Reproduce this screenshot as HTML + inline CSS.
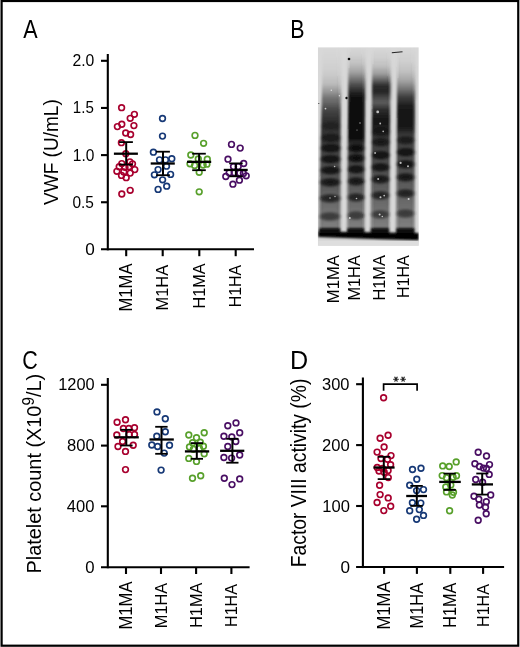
<!DOCTYPE html><html><head><meta charset="utf-8"><style>html,body{margin:0;padding:0;background:#fff}svg{display:block}text{font-family:"Liberation Sans",sans-serif;font-kerning:none;letter-spacing:0}</style></head><body>
<svg width="520" height="647" viewBox="0 0 520 647">
<defs><filter id="gs" x="0" y="0" width="100%" height="100%" filterUnits="userSpaceOnUse"><feGaussianBlur stdDeviation="0.25"/></filter></defs>
<g filter="url(#gs)">
<rect x="0" y="0" width="520" height="647" fill="#fff"/>
<text transform="translate(23.36,37.60) scale(0.8335,1)" font-size="25.87" fill="#000">A</text>
<text transform="translate(290.24,37.60) scale(0.8233,1)" font-size="26.02" fill="#000">B</text>
<text transform="translate(22.31,369.34) scale(0.8174,1)" font-size="26.27" fill="#000">C</text>
<text transform="translate(289.94,369.00) scale(0.9890,1)" font-size="25.44" fill="#000">D</text>
<line x1="107.8" y1="54.0" x2="107.8" y2="250.35000000000002" stroke="#000" stroke-width="2.1" stroke-linecap="butt"/>
<line x1="101.0" y1="249.3" x2="254.0" y2="249.3" stroke="#000" stroke-width="2.1" stroke-linecap="butt"/>
<line x1="101.0" y1="60.8" x2="107.8" y2="60.8" stroke="#000" stroke-width="2.1" stroke-linecap="butt"/>
<line x1="101.0" y1="107.95" x2="107.8" y2="107.95" stroke="#000" stroke-width="2.1" stroke-linecap="butt"/>
<line x1="101.0" y1="155.1" x2="107.8" y2="155.1" stroke="#000" stroke-width="2.1" stroke-linecap="butt"/>
<line x1="101.0" y1="202.25" x2="107.8" y2="202.25" stroke="#000" stroke-width="2.1" stroke-linecap="butt"/>
<line x1="126.2" y1="249.3" x2="126.2" y2="256.2" stroke="#000" stroke-width="2.1" stroke-linecap="butt"/>
<line x1="162.7" y1="249.3" x2="162.7" y2="256.2" stroke="#000" stroke-width="2.1" stroke-linecap="butt"/>
<line x1="199.3" y1="249.3" x2="199.3" y2="256.2" stroke="#000" stroke-width="2.1" stroke-linecap="butt"/>
<line x1="235.7" y1="249.3" x2="235.7" y2="256.2" stroke="#000" stroke-width="2.1" stroke-linecap="butt"/>
<text transform="translate(72.41,66.34) scale(0.9703,1)" font-size="16.24" fill="#000">2.0</text>
<text transform="translate(72.85,113.34) scale(0.9239,1)" font-size="16.34" fill="#000">1.5</text>
<text transform="translate(72.82,160.64) scale(0.9479,1)" font-size="16.38" fill="#000">1.0</text>
<text transform="translate(72.40,207.74) scale(0.9418,1)" font-size="16.38" fill="#000">0.5</text>
<text transform="translate(85.13,254.74) scale(1.0654,1)" font-size="16.10" fill="#000">0</text>
<text transform="translate(57.50,204.98) rotate(-90) scale(0.9225,1)" font-size="20.64"><tspan font-size="20.64">VWF (U/mL)</tspan></text>
<text transform="translate(131.60,311.57) rotate(-90) scale(0.9565,1)" font-size="17.44" fill="#000">M1MA</text>
<text transform="translate(168.20,310.45) rotate(-90) scale(0.9586,1)" font-size="17.15" fill="#000">M1HA</text>
<text transform="translate(204.70,308.43) rotate(-90) scale(0.9299,1)" font-size="17.44" fill="#000">H1MA</text>
<text transform="translate(241.20,307.31) rotate(-90) scale(0.9458,1)" font-size="16.86" fill="#000">H1HA</text>
<g fill="none" stroke="#a8002e" stroke-width="1.65"><circle cx="121.6" cy="107.7" r="2.85"/><circle cx="134.4" cy="114.3" r="2.85"/><circle cx="130.2" cy="118.3" r="2.85"/><circle cx="121.8" cy="124.2" r="2.85"/><circle cx="117.4" cy="126.6" r="2.85"/><circle cx="133.9" cy="125.6" r="2.85"/><circle cx="125.7" cy="133" r="2.85"/><circle cx="130.6" cy="134.5" r="2.85"/><circle cx="121.4" cy="142.7" r="2.85"/><circle cx="125.8" cy="153.7" r="2.85"/><circle cx="121.8" cy="163.6" r="2.85"/><circle cx="129.9" cy="161.8" r="2.85"/><circle cx="132.5" cy="163.8" r="2.85"/><circle cx="119.2" cy="166.7" r="2.85"/><circle cx="125" cy="167.3" r="2.85"/><circle cx="129" cy="166.7" r="2.85"/><circle cx="116.9" cy="171.3" r="2.85"/><circle cx="134.8" cy="169.6" r="2.85"/><circle cx="130.2" cy="173.1" r="2.85"/><circle cx="121.5" cy="175.4" r="2.85"/><circle cx="126.2" cy="177.7" r="2.85"/><circle cx="123.8" cy="171.9" r="2.85"/><circle cx="130.2" cy="190.3" r="2.85"/><circle cx="121.8" cy="194" r="2.85"/></g>
<g fill="none" stroke="#163876" stroke-width="1.65"><circle cx="162.5" cy="118.5" r="2.85"/><circle cx="162.5" cy="136.1" r="2.85"/><circle cx="153.4" cy="152.2" r="2.85"/><circle cx="159.5" cy="159.9" r="2.85"/><circle cx="165.5" cy="159.9" r="2.85"/><circle cx="171.8" cy="158.7" r="2.85"/><circle cx="166.5" cy="166.2" r="2.85"/><circle cx="158.1" cy="169.6" r="2.85"/><circle cx="154.4" cy="174.8" r="2.85"/><circle cx="170.6" cy="174.4" r="2.85"/><circle cx="162.6" cy="179.8" r="2.85"/><circle cx="166.7" cy="186.2" r="2.85"/><circle cx="158.1" cy="189.4" r="2.85"/></g>
<g fill="none" stroke="#58a02c" stroke-width="1.65"><circle cx="195" cy="135.4" r="2.85"/><circle cx="203.6" cy="143.3" r="2.85"/><circle cx="190.8" cy="155" r="2.85"/><circle cx="198.3" cy="159" r="2.85"/><circle cx="207.3" cy="159.2" r="2.85"/><circle cx="190" cy="163.8" r="2.85"/><circle cx="194.6" cy="165.4" r="2.85"/><circle cx="203.1" cy="165" r="2.85"/><circle cx="206.9" cy="164.2" r="2.85"/><circle cx="199.2" cy="172.3" r="2.85"/><circle cx="199.2" cy="191.8" r="2.85"/></g>
<g fill="none" stroke="#4a1064" stroke-width="1.65"><circle cx="231.5" cy="144.4" r="2.85"/><circle cx="240.2" cy="148.1" r="2.85"/><circle cx="228" cy="159.2" r="2.85"/><circle cx="243.7" cy="163.5" r="2.85"/><circle cx="233.5" cy="166.6" r="2.85"/><circle cx="238.2" cy="166.6" r="2.85"/><circle cx="229.2" cy="172.8" r="2.85"/><circle cx="234.2" cy="172.8" r="2.85"/><circle cx="239.7" cy="173.1" r="2.85"/><circle cx="243.4" cy="173.4" r="2.85"/><circle cx="225.8" cy="176.5" r="2.85"/><circle cx="246.2" cy="175.8" r="2.85"/><circle cx="239.4" cy="180.2" r="2.85"/><circle cx="232.9" cy="184.2" r="2.85"/></g>
<line x1="126.2" y1="142.1" x2="126.2" y2="164.6" stroke="#000" stroke-width="2.0" stroke-linecap="butt"/>
<line x1="119.1" y1="142.1" x2="132.9" y2="142.1" stroke="#000" stroke-width="1.8" stroke-linecap="butt"/>
<line x1="119.1" y1="164.6" x2="132.9" y2="164.6" stroke="#000" stroke-width="1.8" stroke-linecap="butt"/>
<line x1="113.9" y1="153.7" x2="137.9" y2="153.7" stroke="#000" stroke-width="2.3" stroke-linecap="butt"/>
<line x1="163.0" y1="151.7" x2="163.0" y2="175.2" stroke="#000" stroke-width="2.0" stroke-linecap="butt"/>
<line x1="156.1" y1="151.7" x2="169.9" y2="151.7" stroke="#000" stroke-width="1.8" stroke-linecap="butt"/>
<line x1="156.1" y1="175.2" x2="169.9" y2="175.2" stroke="#000" stroke-width="1.8" stroke-linecap="butt"/>
<line x1="150.7" y1="163.5" x2="174.8" y2="163.5" stroke="#000" stroke-width="2.3" stroke-linecap="butt"/>
<line x1="199.1" y1="153.7" x2="199.1" y2="170.2" stroke="#000" stroke-width="2.0" stroke-linecap="butt"/>
<line x1="192.2" y1="153.7" x2="205.8" y2="153.7" stroke="#000" stroke-width="1.8" stroke-linecap="butt"/>
<line x1="192.2" y1="170.2" x2="205.8" y2="170.2" stroke="#000" stroke-width="1.8" stroke-linecap="butt"/>
<line x1="187.0" y1="161.85" x2="211.2" y2="161.85" stroke="#000" stroke-width="2.3" stroke-linecap="butt"/>
<line x1="235.9" y1="163.4" x2="235.9" y2="176.3" stroke="#000" stroke-width="2.0" stroke-linecap="butt"/>
<line x1="229.2" y1="163.4" x2="242.7" y2="163.4" stroke="#000" stroke-width="1.8" stroke-linecap="butt"/>
<line x1="229.2" y1="176.3" x2="242.7" y2="176.3" stroke="#000" stroke-width="1.8" stroke-linecap="butt"/>
<line x1="223.8" y1="169.95" x2="247.7" y2="169.95" stroke="#000" stroke-width="2.3" stroke-linecap="butt"/>
<line x1="107.8" y1="378.0" x2="107.8" y2="568.25" stroke="#000" stroke-width="2.1" stroke-linecap="butt"/>
<line x1="101.0" y1="567.2" x2="249.6" y2="567.2" stroke="#000" stroke-width="2.1" stroke-linecap="butt"/>
<line x1="101.0" y1="384.8" x2="107.8" y2="384.8" stroke="#000" stroke-width="2.1" stroke-linecap="butt"/>
<line x1="101.0" y1="445.6" x2="107.8" y2="445.6" stroke="#000" stroke-width="2.1" stroke-linecap="butt"/>
<line x1="101.0" y1="506.3" x2="107.8" y2="506.3" stroke="#000" stroke-width="2.1" stroke-linecap="butt"/>
<line x1="126.0" y1="567.2" x2="126.0" y2="574.0" stroke="#000" stroke-width="2.1" stroke-linecap="butt"/>
<line x1="161.0" y1="567.2" x2="161.0" y2="574.0" stroke="#000" stroke-width="2.1" stroke-linecap="butt"/>
<line x1="196.1" y1="567.2" x2="196.1" y2="574.0" stroke="#000" stroke-width="2.1" stroke-linecap="butt"/>
<line x1="231.4" y1="567.2" x2="231.4" y2="574.0" stroke="#000" stroke-width="2.1" stroke-linecap="butt"/>
<text transform="translate(58.15,390.44) scale(1.0099,1)" font-size="16.24" fill="#000">1200</text>
<text transform="translate(66.98,451.14) scale(1.0210,1)" font-size="16.24" fill="#000">800</text>
<text transform="translate(66.82,511.84) scale(1.0144,1)" font-size="16.38" fill="#000">400</text>
<text transform="translate(85.35,572.84) scale(1.0394,1)" font-size="16.10" fill="#000">0</text>
<text transform="translate(41.00,573.53) rotate(-90) scale(0.9501,1)" font-size="20.93"><tspan font-size="20.93">Platelet count (X10</tspan><tspan dy="-6.91" font-size="16.12">9</tspan><tspan dy="6.91" font-size="20.93">/L)</tspan></text>
<text transform="translate(131.80,629.57) rotate(-90) scale(0.9565,1)" font-size="17.44" fill="#000">M1MA</text>
<text transform="translate(166.60,628.24) rotate(-90) scale(0.9625,1)" font-size="17.01" fill="#000">M1HA</text>
<text transform="translate(202.30,627.83) rotate(-90) scale(0.9299,1)" font-size="17.44" fill="#000">H1MA</text>
<text transform="translate(236.90,627.02) rotate(-90) scale(0.9656,1)" font-size="16.72" fill="#000">H1HA</text>
<g fill="none" stroke="#a8002e" stroke-width="1.65"><circle cx="117.1" cy="422.3" r="2.85"/><circle cx="125.5" cy="419.8" r="2.85"/><circle cx="123.4" cy="428.5" r="2.85"/><circle cx="128.8" cy="428.5" r="2.85"/><circle cx="134.5" cy="427.7" r="2.85"/><circle cx="116.8" cy="435" r="2.85"/><circle cx="129.2" cy="434.6" r="2.85"/><circle cx="134.5" cy="434.5" r="2.85"/><circle cx="122.6" cy="441.5" r="2.85"/><circle cx="118" cy="446.5" r="2.85"/><circle cx="133.2" cy="445.2" r="2.85"/><circle cx="125.5" cy="451.4" r="2.85"/><circle cx="125.5" cy="469.6" r="2.85"/></g>
<g fill="none" stroke="#163876" stroke-width="1.65"><circle cx="157" cy="411.9" r="2.85"/><circle cx="165.3" cy="418.7" r="2.85"/><circle cx="165.3" cy="431.8" r="2.85"/><circle cx="156.8" cy="436.3" r="2.85"/><circle cx="151.8" cy="445" r="2.85"/><circle cx="157.6" cy="446.5" r="2.85"/><circle cx="169.5" cy="445.2" r="2.85"/><circle cx="164.2" cy="453.1" r="2.85"/><circle cx="161.1" cy="470.1" r="2.85"/></g>
<g fill="none" stroke="#58a02c" stroke-width="1.65"><circle cx="188.8" cy="435" r="2.85"/><circle cx="204.2" cy="432.7" r="2.85"/><circle cx="196.5" cy="437.8" r="2.85"/><circle cx="192.6" cy="442.7" r="2.85"/><circle cx="200.3" cy="442.3" r="2.85"/><circle cx="189.5" cy="446.9" r="2.85"/><circle cx="203.4" cy="446.2" r="2.85"/><circle cx="193.4" cy="449.2" r="2.85"/><circle cx="199.5" cy="448.5" r="2.85"/><circle cx="204.2" cy="453.7" r="2.85"/><circle cx="188.8" cy="458.4" r="2.85"/><circle cx="196.5" cy="461.4" r="2.85"/><circle cx="200.7" cy="475.8" r="2.85"/><circle cx="192.5" cy="478.3" r="2.85"/></g>
<g fill="none" stroke="#4a1064" stroke-width="1.65"><circle cx="227.8" cy="425.8" r="2.85"/><circle cx="236" cy="422.9" r="2.85"/><circle cx="239.7" cy="432.7" r="2.85"/><circle cx="223.9" cy="436.2" r="2.85"/><circle cx="231.8" cy="436.9" r="2.85"/><circle cx="235.8" cy="441.5" r="2.85"/><circle cx="227.8" cy="446.5" r="2.85"/><circle cx="239.7" cy="455" r="2.85"/><circle cx="223.9" cy="457.5" r="2.85"/><circle cx="231.6" cy="458.1" r="2.85"/><circle cx="224.3" cy="478.3" r="2.85"/><circle cx="239.7" cy="478.9" r="2.85"/><circle cx="232" cy="484.6" r="2.85"/></g>
<line x1="126.3" y1="429.8" x2="126.3" y2="445.5" stroke="#000" stroke-width="2.0" stroke-linecap="butt"/>
<line x1="120.3" y1="429.8" x2="132.6" y2="429.8" stroke="#000" stroke-width="1.8" stroke-linecap="butt"/>
<line x1="120.3" y1="445.5" x2="132.6" y2="445.5" stroke="#000" stroke-width="1.8" stroke-linecap="butt"/>
<line x1="114.2" y1="437.3" x2="138.8" y2="437.3" stroke="#000" stroke-width="2.3" stroke-linecap="butt"/>
<line x1="161.5" y1="426.8" x2="161.5" y2="453.8" stroke="#000" stroke-width="2.0" stroke-linecap="butt"/>
<line x1="155.2" y1="426.8" x2="167.6" y2="426.8" stroke="#000" stroke-width="1.8" stroke-linecap="butt"/>
<line x1="155.2" y1="453.8" x2="167.6" y2="453.8" stroke="#000" stroke-width="1.8" stroke-linecap="butt"/>
<line x1="149.5" y1="439.5" x2="173.8" y2="439.5" stroke="#000" stroke-width="2.3" stroke-linecap="butt"/>
<line x1="196.8" y1="443.1" x2="196.8" y2="458.8" stroke="#000" stroke-width="2.0" stroke-linecap="butt"/>
<line x1="190.7" y1="443.1" x2="203.0" y2="443.1" stroke="#000" stroke-width="1.8" stroke-linecap="butt"/>
<line x1="190.7" y1="458.8" x2="203.0" y2="458.8" stroke="#000" stroke-width="1.8" stroke-linecap="butt"/>
<line x1="184.9" y1="451.4" x2="209.2" y2="451.4" stroke="#000" stroke-width="2.3" stroke-linecap="butt"/>
<line x1="232.4" y1="438.8" x2="232.4" y2="462.7" stroke="#000" stroke-width="2.0" stroke-linecap="butt"/>
<line x1="226.2" y1="438.8" x2="238.5" y2="438.8" stroke="#000" stroke-width="1.8" stroke-linecap="butt"/>
<line x1="226.2" y1="462.7" x2="238.5" y2="462.7" stroke="#000" stroke-width="1.8" stroke-linecap="butt"/>
<line x1="220.1" y1="450.8" x2="244.3" y2="450.8" stroke="#000" stroke-width="2.3" stroke-linecap="butt"/>
<line x1="362.9" y1="377.5" x2="362.9" y2="568.05" stroke="#000" stroke-width="2.1" stroke-linecap="butt"/>
<line x1="356.09999999999997" y1="567.0" x2="504.1" y2="567.0" stroke="#000" stroke-width="2.1" stroke-linecap="butt"/>
<line x1="356.09999999999997" y1="384.2" x2="362.9" y2="384.2" stroke="#000" stroke-width="2.1" stroke-linecap="butt"/>
<line x1="356.09999999999997" y1="445.1" x2="362.9" y2="445.1" stroke="#000" stroke-width="2.1" stroke-linecap="butt"/>
<line x1="356.09999999999997" y1="506.0" x2="362.9" y2="506.0" stroke="#000" stroke-width="2.1" stroke-linecap="butt"/>
<line x1="384.1" y1="567.0" x2="384.1" y2="573.9" stroke="#000" stroke-width="2.1" stroke-linecap="butt"/>
<line x1="416.9" y1="567.0" x2="416.9" y2="573.9" stroke="#000" stroke-width="2.1" stroke-linecap="butt"/>
<line x1="450.3" y1="567.0" x2="450.3" y2="573.9" stroke="#000" stroke-width="2.1" stroke-linecap="butt"/>
<line x1="483.1" y1="567.0" x2="483.1" y2="573.9" stroke="#000" stroke-width="2.1" stroke-linecap="butt"/>
<text transform="translate(322.07,389.94) scale(1.0136,1)" font-size="16.24" fill="#000">300</text>
<text transform="translate(321.97,450.74) scale(1.0215,1)" font-size="16.24" fill="#000">200</text>
<text transform="translate(322.24,511.74) scale(1.0099,1)" font-size="16.38" fill="#000">100</text>
<text transform="translate(340.43,572.54) scale(1.0654,1)" font-size="16.10" fill="#000">0</text>
<text transform="translate(306.20,567.28) rotate(-90) scale(0.9101,1)" font-size="21.22"><tspan font-size="21.22">Factor VIII activity (%)</tspan></text>
<text transform="translate(389.50,629.57) rotate(-90) scale(0.9565,1)" font-size="17.44" fill="#000">M1MA</text>
<text transform="translate(422.80,628.45) rotate(-90) scale(0.9427,1)" font-size="17.44" fill="#000">M1HA</text>
<text transform="translate(455.90,627.83) rotate(-90) scale(0.9222,1)" font-size="17.59" fill="#000">H1MA</text>
<text transform="translate(488.80,627.02) rotate(-90) scale(0.9573,1)" font-size="16.86" fill="#000">H1HA</text>
<g fill="none" stroke="#a8002e" stroke-width="1.65"><circle cx="383.6" cy="397.8" r="2.85"/><circle cx="388.1" cy="435.2" r="2.85"/><circle cx="380.1" cy="438.2" r="2.85"/><circle cx="384.1" cy="446.9" r="2.85"/><circle cx="377.1" cy="452.1" r="2.85"/><circle cx="391" cy="455.6" r="2.85"/><circle cx="381" cy="458.5" r="2.85"/><circle cx="387.5" cy="459.3" r="2.85"/><circle cx="390.6" cy="464.7" r="2.85"/><circle cx="377.2" cy="467.5" r="2.85"/><circle cx="382.4" cy="468.4" r="2.85"/><circle cx="388.1" cy="470.5" r="2.85"/><circle cx="379" cy="471" r="2.85"/><circle cx="384.2" cy="472.3" r="2.85"/><circle cx="388.3" cy="477.6" r="2.85"/><circle cx="379.6" cy="485.2" r="2.85"/><circle cx="380.1" cy="494.6" r="2.85"/><circle cx="388.2" cy="497.9" r="2.85"/><circle cx="377.1" cy="502.5" r="2.85"/><circle cx="390.7" cy="506.2" r="2.85"/><circle cx="383.8" cy="510.6" r="2.85"/></g>
<g fill="none" stroke="#163876" stroke-width="1.65"><circle cx="412.5" cy="469.5" r="2.85"/><circle cx="421" cy="468.3" r="2.85"/><circle cx="416.8" cy="479.2" r="2.85"/><circle cx="409.7" cy="485.2" r="2.85"/><circle cx="416.6" cy="490.6" r="2.85"/><circle cx="423.5" cy="489.6" r="2.85"/><circle cx="412.4" cy="502.7" r="2.85"/><circle cx="420.8" cy="503.1" r="2.85"/><circle cx="409.7" cy="510.8" r="2.85"/><circle cx="419.3" cy="509.6" r="2.85"/><circle cx="423.5" cy="515.4" r="2.85"/><circle cx="416.6" cy="519.2" r="2.85"/></g>
<g fill="none" stroke="#58a02c" stroke-width="1.65"><circle cx="456.2" cy="461.9" r="2.85"/><circle cx="442.7" cy="465.9" r="2.85"/><circle cx="449.2" cy="466.5" r="2.85"/><circle cx="442.2" cy="475.6" r="2.85"/><circle cx="446.5" cy="477.7" r="2.85"/><circle cx="453.1" cy="477.3" r="2.85"/><circle cx="456.5" cy="475.8" r="2.85"/><circle cx="445.8" cy="486.9" r="2.85"/><circle cx="450.8" cy="485" r="2.85"/><circle cx="446.5" cy="491.9" r="2.85"/><circle cx="453.5" cy="492.3" r="2.85"/><circle cx="452.3" cy="495" r="2.85"/><circle cx="449.6" cy="510.8" r="2.85"/></g>
<g fill="none" stroke="#4a1064" stroke-width="1.65"><circle cx="478.2" cy="452.3" r="2.85"/><circle cx="486.5" cy="456" r="2.85"/><circle cx="474.9" cy="463.8" r="2.85"/><circle cx="489.5" cy="464.6" r="2.85"/><circle cx="479.5" cy="466.5" r="2.85"/><circle cx="483.4" cy="468.1" r="2.85"/><circle cx="486.5" cy="468.5" r="2.85"/><circle cx="489.2" cy="474.4" r="2.85"/><circle cx="475.7" cy="479.4" r="2.85"/><circle cx="482.6" cy="482.3" r="2.85"/><circle cx="474" cy="496.2" r="2.85"/><circle cx="490.7" cy="495" r="2.85"/><circle cx="478.8" cy="499.2" r="2.85"/><circle cx="486.3" cy="501.7" r="2.85"/><circle cx="479.4" cy="505" r="2.85"/><circle cx="485.5" cy="507.3" r="2.85"/><circle cx="486.2" cy="513.8" r="2.85"/><circle cx="478.2" cy="520.2" r="2.85"/></g>
<line x1="383.8" y1="456.8" x2="383.8" y2="479.1" stroke="#000" stroke-width="2.0" stroke-linecap="butt"/>
<line x1="377.7" y1="456.8" x2="390.2" y2="456.8" stroke="#000" stroke-width="1.8" stroke-linecap="butt"/>
<line x1="377.7" y1="479.1" x2="390.2" y2="479.1" stroke="#000" stroke-width="1.8" stroke-linecap="butt"/>
<line x1="373.5" y1="467.5" x2="394.6" y2="467.5" stroke="#000" stroke-width="2.3" stroke-linecap="butt"/>
<line x1="416.8" y1="485.9" x2="416.8" y2="505.9" stroke="#000" stroke-width="2.0" stroke-linecap="butt"/>
<line x1="410.3" y1="485.9" x2="422.8" y2="485.9" stroke="#000" stroke-width="1.8" stroke-linecap="butt"/>
<line x1="410.3" y1="505.9" x2="422.8" y2="505.9" stroke="#000" stroke-width="1.8" stroke-linecap="butt"/>
<line x1="406.2" y1="496.0" x2="427.0" y2="496.0" stroke="#000" stroke-width="2.3" stroke-linecap="butt"/>
<line x1="449.8" y1="473.6" x2="449.8" y2="489.9" stroke="#000" stroke-width="2.0" stroke-linecap="butt"/>
<line x1="443.5" y1="473.6" x2="455.8" y2="473.6" stroke="#000" stroke-width="1.8" stroke-linecap="butt"/>
<line x1="443.5" y1="489.9" x2="455.8" y2="489.9" stroke="#000" stroke-width="1.8" stroke-linecap="butt"/>
<line x1="439.2" y1="481.9" x2="460.8" y2="481.9" stroke="#000" stroke-width="2.3" stroke-linecap="butt"/>
<line x1="482.2" y1="473.5" x2="482.2" y2="494.6" stroke="#000" stroke-width="2.0" stroke-linecap="butt"/>
<line x1="476.3" y1="473.5" x2="488.4" y2="473.5" stroke="#000" stroke-width="1.8" stroke-linecap="butt"/>
<line x1="476.3" y1="494.6" x2="488.4" y2="494.6" stroke="#000" stroke-width="1.8" stroke-linecap="butt"/>
<line x1="471.8" y1="484.4" x2="493.0" y2="484.4" stroke="#000" stroke-width="2.3" stroke-linecap="butt"/>
<path d="M383.6 390.8 V384.1 H417.1 V390.8" fill="none" stroke="#000" stroke-width="1.7"/>
<g stroke="#222" stroke-width="1.15" stroke-linecap="round"><line x1="393.65" y1="379.20" x2="398.35" y2="379.20"/><line x1="394.82" y1="377.16" x2="397.18" y2="381.24"/><line x1="397.18" y1="377.16" x2="394.82" y2="381.24"/></g>
<g stroke="#222" stroke-width="1.15" stroke-linecap="round"><line x1="400.75" y1="379.20" x2="405.45" y2="379.20"/><line x1="401.93" y1="377.16" x2="404.28" y2="381.24"/><line x1="404.28" y1="377.16" x2="401.93" y2="381.24"/></g>
<defs>
<clipPath id="gelclip"><rect x="317.8" y="47.2" width="101.0" height="198.6"/></clipPath>
<filter id="gb" x="-20%" y="-5%" width="140%" height="110%"><feGaussianBlur stdDeviation="0.9"/></filter>
<filter id="gb2" x="-50%" y="-50%" width="200%" height="200%"><feGaussianBlur stdDeviation="0.6"/></filter>
<linearGradient id="lg0" gradientUnits="userSpaceOnUse" x1="0" y1="47.2" x2="0" y2="245.8"><stop offset="-0.0010" stop-color="#000" stop-opacity="0"/><stop offset="0.0745" stop-color="#000" stop-opacity="0.02"/><stop offset="0.1349" stop-color="#000" stop-opacity="0.05"/><stop offset="0.1853" stop-color="#000" stop-opacity="0.12"/><stop offset="0.2256" stop-color="#000" stop-opacity="0.28"/><stop offset="0.2659" stop-color="#000" stop-opacity="0.48"/><stop offset="0.3162" stop-color="#000" stop-opacity="0.68"/><stop offset="0.3666" stop-color="#000" stop-opacity="0.78"/><stop offset="0.4673" stop-color="#000" stop-opacity="0.76"/><stop offset="0.5680" stop-color="#000" stop-opacity="0.66"/><stop offset="0.6939" stop-color="#000" stop-opacity="0.6"/><stop offset="0.7694" stop-color="#000" stop-opacity="0.52"/><stop offset="0.9003" stop-color="#000" stop-opacity="0.42"/><stop offset="0.9204" stop-color="#000" stop-opacity="0.5"/></linearGradient>
<linearGradient id="lg1" gradientUnits="userSpaceOnUse" x1="0" y1="47.2" x2="0" y2="245.8"><stop offset="-0.0010" stop-color="#000" stop-opacity="0"/><stop offset="0.0443" stop-color="#000" stop-opacity="0.04"/><stop offset="0.0846" stop-color="#000" stop-opacity="0.1"/><stop offset="0.1249" stop-color="#000" stop-opacity="0.22"/><stop offset="0.1652" stop-color="#000" stop-opacity="0.45"/><stop offset="0.2054" stop-color="#000" stop-opacity="0.7"/><stop offset="0.2457" stop-color="#000" stop-opacity="0.9"/><stop offset="0.2860" stop-color="#000" stop-opacity="0.95"/><stop offset="0.4572" stop-color="#000" stop-opacity="0.95"/><stop offset="0.4975" stop-color="#000" stop-opacity="0.72"/><stop offset="0.6183" stop-color="#000" stop-opacity="0.66"/><stop offset="0.7694" stop-color="#000" stop-opacity="0.52"/><stop offset="0.9003" stop-color="#000" stop-opacity="0.42"/><stop offset="0.9204" stop-color="#000" stop-opacity="0.5"/></linearGradient>
<linearGradient id="lg2" gradientUnits="userSpaceOnUse" x1="0" y1="47.2" x2="0" y2="245.8"><stop offset="-0.0010" stop-color="#000" stop-opacity="0"/><stop offset="0.0544" stop-color="#000" stop-opacity="0.04"/><stop offset="0.0947" stop-color="#000" stop-opacity="0.1"/><stop offset="0.1349" stop-color="#000" stop-opacity="0.25"/><stop offset="0.1652" stop-color="#000" stop-opacity="0.5"/><stop offset="0.1954" stop-color="#000" stop-opacity="0.78"/><stop offset="0.2256" stop-color="#000" stop-opacity="0.8"/><stop offset="0.2558" stop-color="#000" stop-opacity="0.62"/><stop offset="0.2810" stop-color="#000" stop-opacity="0.58"/><stop offset="0.3162" stop-color="#000" stop-opacity="0.8"/><stop offset="0.3666" stop-color="#000" stop-opacity="0.9"/><stop offset="0.4068" stop-color="#000" stop-opacity="0.87"/><stop offset="0.4673" stop-color="#000" stop-opacity="0.72"/><stop offset="0.6183" stop-color="#000" stop-opacity="0.64"/><stop offset="0.7694" stop-color="#000" stop-opacity="0.52"/><stop offset="0.9003" stop-color="#000" stop-opacity="0.42"/><stop offset="0.9204" stop-color="#000" stop-opacity="0.5"/></linearGradient>
<linearGradient id="lg3" gradientUnits="userSpaceOnUse" x1="0" y1="47.2" x2="0" y2="245.8"><stop offset="-0.0010" stop-color="#000" stop-opacity="0"/><stop offset="0.0745" stop-color="#000" stop-opacity="0.04"/><stop offset="0.1249" stop-color="#000" stop-opacity="0.1"/><stop offset="0.1702" stop-color="#000" stop-opacity="0.22"/><stop offset="0.2105" stop-color="#000" stop-opacity="0.42"/><stop offset="0.2508" stop-color="#000" stop-opacity="0.68"/><stop offset="0.2910" stop-color="#000" stop-opacity="0.86"/><stop offset="0.3263" stop-color="#000" stop-opacity="0.9"/><stop offset="0.4068" stop-color="#000" stop-opacity="0.88"/><stop offset="0.4471" stop-color="#000" stop-opacity="0.72"/><stop offset="0.6183" stop-color="#000" stop-opacity="0.64"/><stop offset="0.7694" stop-color="#000" stop-opacity="0.52"/><stop offset="0.9003" stop-color="#000" stop-opacity="0.42"/><stop offset="0.9204" stop-color="#000" stop-opacity="0.5"/></linearGradient>
<linearGradient id="edge" x1="0" y1="0" x2="1" y2="0"><stop offset="0" stop-color="#d8d8d8" stop-opacity="0.3"/><stop offset="0.08" stop-color="#d8d8d8" stop-opacity="0.05"/><stop offset="0.2" stop-color="#d8d8d8" stop-opacity="0"/><stop offset="0.8" stop-color="#d8d8d8" stop-opacity="0"/><stop offset="0.92" stop-color="#d8d8d8" stop-opacity="0.05"/><stop offset="1" stop-color="#d8d8d8" stop-opacity="0.3"/></linearGradient>
<radialGradient id="bandg"><stop offset="0" stop-color="#000" stop-opacity="1"/><stop offset="0.55" stop-color="#000" stop-opacity="0.95"/><stop offset="0.8" stop-color="#000" stop-opacity="0.6"/><stop offset="1" stop-color="#000" stop-opacity="0"/></radialGradient>
</defs>
<g clip-path="url(#gelclip)">
<rect x="317.8" y="47.2" width="101.0" height="198.6" fill="#d8d8d8"/>
<g filter="url(#gb)">
<polygon points="320.5,48.0 343.8,48.0 342.3,100 322.0,100" fill="url(#lg0)" opacity="0.15"/>
<polygon points="323.0,48.0 341.3,48.0 340.6,232.0 318.6,232.0" fill="url(#lg0)"/>
<ellipse cx="331.1" cy="126" rx="11.5" ry="5.0" fill="url(#bandg)" opacity="0.3"/>
<ellipse cx="330.9" cy="138" rx="11.7" ry="5.0" fill="url(#bandg)" opacity="0.5"/>
<ellipse cx="330.8" cy="148.2" rx="11.8" ry="5.0" fill="url(#bandg)" opacity="0.72"/>
<ellipse cx="330.6" cy="159.2" rx="11.9" ry="5.0" fill="url(#bandg)" opacity="0.75"/>
<ellipse cx="330.5" cy="170.3" rx="12.0" ry="5.0" fill="url(#bandg)" opacity="0.75"/>
<ellipse cx="330.3" cy="182.3" rx="12.2" ry="5.0" fill="url(#bandg)" opacity="0.72"/>
<ellipse cx="330.1" cy="198.4" rx="12.4" ry="5.0" fill="url(#bandg)" opacity="0.65"/>
<ellipse cx="329.8" cy="216.5" rx="12.6" ry="5.0" fill="url(#bandg)" opacity="0.5"/>
<polygon points="323.0,48.0 341.3,48.0 340.6,232.0 318.6,232.0" fill="url(#edge)"/>
<polygon points="346.3,48.0 367.9,48.0 366.4,100 347.8,100" fill="url(#lg1)" opacity="0.15"/>
<polygon points="348.8,48.0 365.4,48.0 364.6,232.0 346.8,232.0" fill="url(#lg1)"/>
<ellipse cx="356.3" cy="148.2" rx="10.0" ry="5.0" fill="url(#bandg)" opacity="0.78"/>
<ellipse cx="356.3" cy="158.2" rx="10.0" ry="5.0" fill="url(#bandg)" opacity="0.78"/>
<ellipse cx="356.2" cy="169.3" rx="10.1" ry="5.0" fill="url(#bandg)" opacity="0.75"/>
<ellipse cx="356.1" cy="181.3" rx="10.1" ry="5.0" fill="url(#bandg)" opacity="0.72"/>
<ellipse cx="356.0" cy="197.4" rx="10.2" ry="5.0" fill="url(#bandg)" opacity="0.65"/>
<ellipse cx="355.8" cy="215.5" rx="10.3" ry="5.0" fill="url(#bandg)" opacity="0.5"/>
<polygon points="348.8,48.0 365.4,48.0 364.6,232.0 346.8,232.0" fill="url(#edge)"/>
<polygon points="370.1,48.0 393.3,48.0 391.8,100 371.6,100" fill="url(#lg2)" opacity="0.15"/>
<polygon points="372.6,48.0 390.8,48.0 389.4,232.0 370.4,232.0" fill="url(#lg2)"/>
<ellipse cx="380.9" cy="132" rx="10.8" ry="5.0" fill="url(#bandg)" opacity="0.4"/>
<ellipse cx="380.8" cy="142.2" rx="10.8" ry="5.0" fill="url(#bandg)" opacity="0.6"/>
<ellipse cx="380.7" cy="155.2" rx="10.8" ry="5.0" fill="url(#bandg)" opacity="0.75"/>
<ellipse cx="380.5" cy="167.3" rx="10.9" ry="5.0" fill="url(#bandg)" opacity="0.75"/>
<ellipse cx="380.4" cy="179.3" rx="10.9" ry="5.0" fill="url(#bandg)" opacity="0.72"/>
<ellipse cx="380.3" cy="195.4" rx="10.9" ry="5.0" fill="url(#bandg)" opacity="0.65"/>
<ellipse cx="380.1" cy="214.5" rx="11.0" ry="5.0" fill="url(#bandg)" opacity="0.5"/>
<polygon points="372.6,48.0 390.8,48.0 389.4,232.0 370.4,232.0" fill="url(#edge)"/>
<polygon points="395.1,48.0 417.7,48.0 416.2,100 396.6,100" fill="url(#lg3)" opacity="0.15"/>
<polygon points="397.6,48.0 415.2,48.0 414.8,232.0 395.8,232.0" fill="url(#lg3)"/>
<ellipse cx="405.8" cy="140.2" rx="10.6" ry="5.0" fill="url(#bandg)" opacity="0.55"/>
<ellipse cx="405.8" cy="152.2" rx="10.7" ry="5.0" fill="url(#bandg)" opacity="0.75"/>
<ellipse cx="405.7" cy="164.3" rx="10.7" ry="5.0" fill="url(#bandg)" opacity="0.75"/>
<ellipse cx="405.6" cy="177.3" rx="10.8" ry="5.0" fill="url(#bandg)" opacity="0.72"/>
<ellipse cx="405.5" cy="193.4" rx="10.8" ry="5.0" fill="url(#bandg)" opacity="0.65"/>
<ellipse cx="405.4" cy="213.5" rx="10.9" ry="5.0" fill="url(#bandg)" opacity="0.5"/>
<polygon points="397.6,48.0 415.2,48.0 414.8,232.0 395.8,232.0" fill="url(#edge)"/>
<polygon points="318.2,231.6 418.8,233.0 418.8,240.2 380,239.2 318.2,237.0" fill="#060606"/>
<rect x="319.0" y="228.2" width="21.3" height="5" fill="#080808"/>
<rect x="347.1" y="228.2" width="17.2" height="5" fill="#080808"/>
<rect x="370.7" y="228.2" width="18.4" height="5" fill="#080808"/>
<rect x="396.1" y="228.2" width="18.4" height="5" fill="#080808"/>
</g>
<rect x="318.2" y="241.0" width="100.6" height="5" fill="#dedede" filter="url(#gb2)"/>
<circle cx="349.0" cy="59.0" r="1.3" fill="#111" filter="url(#gb2)"/>
<circle cx="346.5" cy="98.0" r="1.2" fill="#111" filter="url(#gb2)"/>
<circle cx="318.8" cy="103.5" r="0.5" fill="#111" filter="url(#gb2)"/>
<path d="M391.8 52.7 L402.5 51.7" stroke="#222" stroke-width="1.1" filter="url(#gb2)"/>
<circle cx="325.5" cy="108.6" r="0.9" fill="#fff" opacity="0.7" filter="url(#gb2)"/>
<circle cx="331.3" cy="90.2" r="0.7" fill="#fff" opacity="0.7" filter="url(#gb2)"/>
<circle cx="339.4" cy="95.8" r="0.7" fill="#fff" opacity="0.7" filter="url(#gb2)"/>
<circle cx="377.7" cy="111.9" r="1.4" fill="#fff" opacity="0.7" filter="url(#gb2)"/>
<circle cx="380.2" cy="123.5" r="0.9" fill="#fff" opacity="0.7" filter="url(#gb2)"/>
<circle cx="383.2" cy="131.4" r="0.8" fill="#fff" opacity="0.7" filter="url(#gb2)"/>
<circle cx="375.1" cy="153.0" r="0.9" fill="#fff" opacity="0.7" filter="url(#gb2)"/>
<circle cx="400.6" cy="162.9" r="1.1" fill="#fff" opacity="0.7" filter="url(#gb2)"/>
<circle cx="408.0" cy="166.3" r="1.0" fill="#fff" opacity="0.7" filter="url(#gb2)"/>
<circle cx="378.2" cy="179.0" r="1.0" fill="#fff" opacity="0.7" filter="url(#gb2)"/>
<circle cx="380.5" cy="197.3" r="1.0" fill="#fff" opacity="0.7" filter="url(#gb2)"/>
<circle cx="384.2" cy="195.6" r="0.9" fill="#fff" opacity="0.7" filter="url(#gb2)"/>
<circle cx="408.6" cy="199.1" r="1.0" fill="#fff" opacity="0.7" filter="url(#gb2)"/>
<circle cx="334.6" cy="166.5" r="0.8" fill="#fff" opacity="0.7" filter="url(#gb2)"/>
<circle cx="356.5" cy="198.5" r="0.8" fill="#fff" opacity="0.7" filter="url(#gb2)"/>
<circle cx="349.8" cy="218.0" r="1.0" fill="#fff" opacity="0.7" filter="url(#gb2)"/>
<circle cx="379.6" cy="214.4" r="1.0" fill="#fff" opacity="0.7" filter="url(#gb2)"/>
<circle cx="382.3" cy="216.5" r="0.8" fill="#fff" opacity="0.7" filter="url(#gb2)"/>
<circle cx="360.0" cy="123.0" r="0.7" fill="#fff" opacity="0.7" filter="url(#gb2)"/>
<circle cx="357.0" cy="130.0" r="0.6" fill="#fff" opacity="0.7" filter="url(#gb2)"/>
<circle cx="330.0" cy="198.0" r="0.7" fill="#fff" opacity="0.7" filter="url(#gb2)"/>
<circle cx="335.0" cy="196.5" r="0.7" fill="#fff" opacity="0.7" filter="url(#gb2)"/>
</g>
<text transform="translate(339.00,303.17) rotate(-90) scale(0.9706,1)" font-size="17.15" fill="#000">M1MA</text>
<text transform="translate(360.10,300.54) rotate(-90) scale(0.9603,1)" font-size="17.01" fill="#000">M1HA</text>
<text transform="translate(384.90,300.54) rotate(-90) scale(0.9463,1)" font-size="17.30" fill="#000">H1MA</text>
<text transform="translate(408.70,298.12) rotate(-90) scale(0.9468,1)" font-size="17.01" fill="#000">H1HA</text>
<rect x="1.6" y="1.0" width="516.65" height="644.7" fill="none" stroke="#000" stroke-width="2.2"/>
</g>
</svg></body></html>
